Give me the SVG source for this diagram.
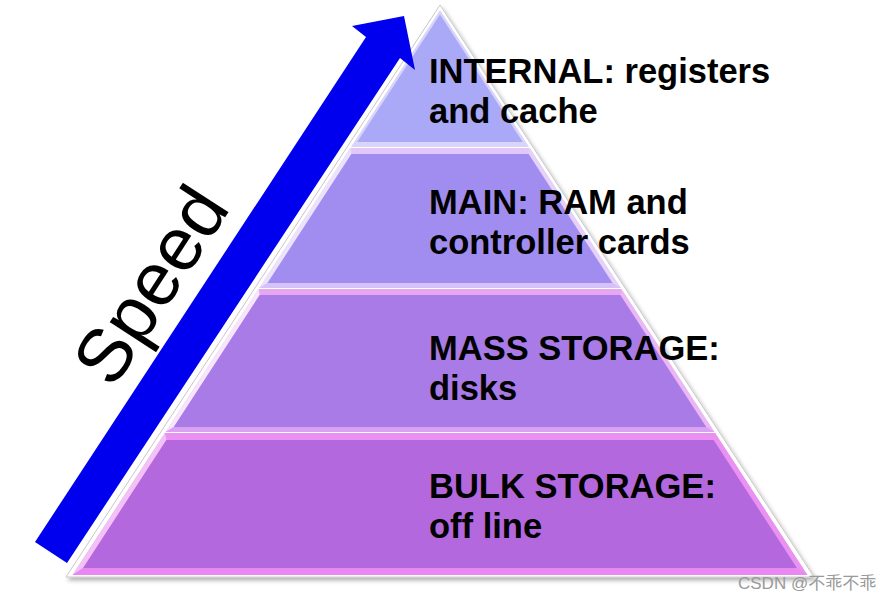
<svg xmlns="http://www.w3.org/2000/svg" width="892" height="601" viewBox="0 0 892 601">
<defs>
<filter id="shadow" x="-5%" y="-5%" width="110%" height="110%">
<feDropShadow dx="2" dy="3" stdDeviation="2" flood-color="#000" flood-opacity="0.3"/>
</filter>
<style>
.lbl{font-family:"Liberation Sans",Arial,sans-serif;font-weight:bold;font-size:34.5px;fill:#000}
.speed{font-family:"Liberation Sans",Arial,sans-serif;font-size:75px;fill:#000}
.wm{font-family:"Liberation Sans","Noto Sans CJK SC",sans-serif;font-size:17px;fill:#9a9a9a}
</style>
</defs>
<rect width="892" height="601" fill="#fff"/>
<g id="pyramid-outline">
<polygon points="440,5 66,577 814,577" fill="#fff" stroke="#c8c8c8" stroke-width="1" filter="url(#shadow)"/>
</g>
<g id="tier-internal">
<polygon points="440,10 350.9,147 529.1,147" fill="#d8d4fa"/>
<polygon points="440,14.6 357.2,142 522.8,142" fill="#a9a9f7"/>
<text class="lbl" x="429" y="83">INTERNAL: registers</text>
<text class="lbl" x="429" y="123">and cache</text>
</g>
<g id="tier-main">
<polygon points="350.3,148 529.7,148 620.8,288 259.2,288" fill="#e2c8f8"/>
<polygon points="350.3,148 351.4,154 267.5,283 259.2,288" fill="#ece2fb"/>
<polygon points="529.7,148 528.6,154 612.5,283 620.8,288" fill="#e6d2f9"/>
<polygon points="259.2,288 267.5,283 612.5,283 620.8,288" fill="#d3c3f6"/>
<polygon points="351.4,154 528.6,154 612.5,283 267.5,283" fill="#a18df0"/>
<text class="lbl" x="429" y="214">MAIN: RAM and</text>
<text class="lbl" x="429" y="254">controller cards</text>
</g>
<g id="tier-mass">
<polygon points="258.6,289 621.4,289 714.4,432 165.6,432" fill="#e6a6f2"/>
<polygon points="258.6,289 259.7,295 173.8,427 165.6,432" fill="#f6e6fc"/>
<polygon points="621.4,289 620.3,295 706.2,427 714.4,432" fill="#eab8f5"/>
<polygon points="165.6,432 173.8,427 706.2,427 714.4,432" fill="#d8a2f0"/>
<polygon points="259.7,295 620.3,295 706.2,427 173.8,427" fill="#a87be7"/>
<text class="lbl" x="429" y="360">MASS STORAGE:</text>
<text class="lbl" x="429" y="400">disks</text>
</g>
<g id="tier-bulk">
<polygon points="164.9,433 715.1,433 807.4,575 72.6,575" fill="#e990f2"/>
<polygon points="164.9,433 166.4,440 83.1,568 72.6,575" fill="#f2c2f7"/>
<polygon points="715.1,433 713.6,440 796.9,568 807.4,575" fill="#e992f2"/>
<polygon points="72.6,575 83.1,568 796.9,568 807.4,575" fill="#e888f0"/>
<polygon points="166.4,440 713.6,440 796.9,568 83.1,568" fill="#b468de"/>
<text class="lbl" x="429" y="498">BULK STORAGE:</text>
<text class="lbl" x="429" y="538">off line</text>
</g>
<g id="connectors">
<polygon points="35,542 366,37 352,26 404,16 415,70 400,58 67,563" fill="#0000ee"/>
</g>
<g id="speed-label">
<text class="speed" transform="translate(113,390) rotate(-57)">Speed</text>
</g>
<g id="watermark">
<text class="wm" x="738" y="589">CSDN @不乖不乖</text>
</g>
</svg>
